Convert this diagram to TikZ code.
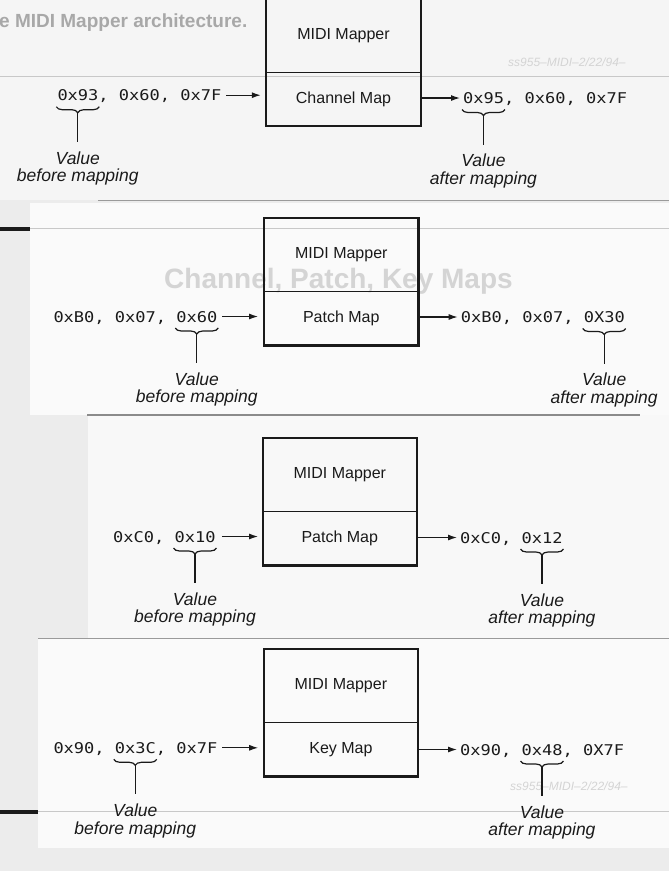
\documentclass[tikz,border=0pt]{standalone}
\usepackage{fontspec}
\setmainfont{Liberation Sans}
\newfontfamily\hexfont[FakeStretch=1.15]{DejaVu Sans Mono}
\usetikzlibrary{arrows.meta,decorations.pathreplacing,calc}
\definecolor{pagegray}{HTML}{ECECEC}
\definecolor{topwhite}{HTML}{F5F5F5}
\definecolor{panelwhite}{HTML}{FAFAFA}
\definecolor{edgegray}{HTML}{9A9A9A}
\definecolor{ghostline}{HTML}{C8C8C8}
\definecolor{ghosttext}{HTML}{A8A8A8}
\definecolor{ghostlight}{HTML}{D4D4D4}
\definecolor{ink}{HTML}{1A1A1A}
\newcommand\valbrace[5]{%
  \coordinate (#4a) at ($(#1.base west)+({#2*10.25-1},6)$);
  \coordinate (#4b) at ($(#1.base west)+({#3*10.25+1},6)$);
  \draw[brc] (#4a) -- (#4b);
  \coordinate (#4c) at ($(#4a)!0.5!(#4b)+(0,6)$);
  \node[lab] (#4v) at ($(#4c)+(0,38.5)$) {Value\\#5};
  \draw[stem] (#4c) -- (#4v.north);
}
\begin{document}
\begin{tikzpicture}[x=1pt,y=-1pt,
  hex/.style={font=\hexfont\fontsize{14.8}{18}\selectfont, inner sep=0pt, text height=11pt, text depth=0pt, anchor=base west, text=ink},
  sec/.style={font=\fontsize{16}{19}\selectfont, inner sep=0pt, minimum width=154pt, text=ink},
  upper/.style={sec, minimum height=73pt},
  lower/.style={sec, minimum height=54pt},
  boxline/.style={draw=ink, line width=2.2pt},
  divline/.style={draw=ink, line width=1.3pt},
  arr/.style={draw=ink, line width=1.2pt, -{Latex[length=9pt,width=6pt]}},
  brc/.style={draw=ink, line width=1.2pt, decorate, decoration={brace, mirror, amplitude=6pt}},
  stem/.style={draw=ink, line width=1.2pt, shorten >=9.5pt},
  lab/.style={font=\itshape\fontsize{17.5}{17.5}\selectfont, align=center, inner sep=0pt, anchor=north, text=ink},
  ghost/.style={font=\bfseries, inner sep=0pt, anchor=base west}
]
\useasboundingbox (0,0) rectangle (669,871);
% paper background
\fill[pagegray] (0,0) rectangle (669,871);
\fill[topwhite] (0,0) rectangle (669,200);
\fill[panelwhite] (30,203) rectangle (669,415);
\fill[panelwhite!99!black] (88,415) rectangle (669,638);
\fill[panelwhite] (38,638) rectangle (669,848);
% paper edges and ghost lines
\draw[edgegray, line width=1pt] (98,200.5) -- (669,200.5);
\draw[edgegray!90!black, line width=1.2pt] (87,415) -- (640,415);
\draw[edgegray, line width=1pt] (38,638.5) -- (669,638.5);
\draw[ghostline, line width=1pt] (0,76) -- (669,76);
\draw[ghostline, line width=1pt] (30,228.5) -- (669,228.5);
\draw[ghostline, line width=1pt] (38,811.5) -- (669,811.5);
\draw[ink, line width=4pt] (0,228.5) -- (30,228.5);
\draw[ink, line width=4pt] (0,811.5) -- (38,811.5);
% ghost texts
\node[ghost, text=ghosttext, font=\bfseries\fontsize{19}{19}\selectfont] (g1) at (-1,27) {e MIDI Mapper architecture.};
\node[ghost, text=ghostlight, font=\bfseries\fontsize{28}{28}\selectfont] (g2) at (164,288) {Channel, Patch, Key Maps};
\node[ghost, text=ghostlight, font=\itshape\fontsize{12}{12}\selectfont] (g3) at (508,66) {ss955--MIDI--2/22/94--};
\node[ghost, text=ghostlight, font=\itshape\fontsize{12}{12}\selectfont] (g4) at (510,790) {ss955--MIDI--2/22/94--};

% ---------- panel 1 ----------
\node[upper] (u1) at (343.5,35.5) {MIDI Mapper};
\node[lower] (l1) at (343.5,99) {Channel Map};
\draw[boxline] (u1.north west) rectangle (l1.south east);
\draw[divline] (u1.south west) -- (u1.south east);
\node[hex] (in1) at (57.3,100.7) {0x93, 0x60, 0x7F};
\node[hex] (out1) at (463,103.5) {0x95, 0x60, 0x7F};
\draw[arr, shorten <=4.5pt, shorten >=5.5pt] (in1.east) -- (in1.east -| l1.west);
\draw[arr, shorten >=3pt] (out1.west -| l1.east) -- (out1.west);
\valbrace{in1}{0}{4}{bi1}{before mapping}
\valbrace{out1}{0}{4}{bo1}{after mapping}

% ---------- panel 2 ----------
\node[upper] (u2) at (341.3,254.8) {MIDI Mapper};
\node[lower] (l2) at (341.3,318.3) {Patch Map};
\draw[boxline] (u2.north west) rectangle (l2.south east);
\draw[divline] (u2.south west) -- (u2.south east);
\node[hex] (in2) at (53.3,322) {0xB0, 0x07, 0x60};
\node[hex] (out2) at (460.7,322.5) {0xB0, 0x07, 0X30};
\draw[arr, shorten <=4.5pt, shorten >=6pt] (in2.east) -- (in2.east -| l2.west);
\draw[arr, shorten >=3pt] (out2.west -| l2.east) -- (out2.west);
\valbrace{in2}{12}{16}{bi2}{before mapping}
\valbrace{out2}{12}{16}{bo2}{after mapping}

% ---------- panel 3 ----------
\node[upper] (u3) at (339.8,474.8) {MIDI Mapper};
\node[lower] (l3) at (339.8,538.3) {Patch Map};
\draw[boxline] (u3.north west) rectangle (l3.south east);
\draw[divline] (u3.south west) -- (u3.south east);
\node[hex] (in3) at (113,542) {0xC0, 0x10};
\node[hex] (out3) at (460,543) {0xC0, 0x12};
\draw[arr, shorten <=6pt, shorten >=4.5pt] (in3.east) -- (in3.east -| l3.west);
\draw[arr, shorten >=3pt] (out3.west -| l3.east) -- (out3.west);
\valbrace{in3}{6}{10}{bi3}{before mapping}
\valbrace{out3}{6}{10}{bo3}{after mapping}

% ---------- panel 4 ----------
\node[upper] (u4) at (340.9,685.8) {MIDI Mapper};
\node[lower] (l4) at (340.9,749.3) {Key Map};
\draw[boxline] (u4.north west) rectangle (l4.south east);
\draw[divline] (u4.south west) -- (u4.south east);
\node[hex] (in4) at (53.3,753.3) {0x90, 0x3C, 0x7F};
\node[hex] (out4) at (460,755) {0x90, 0x48, 0X7F};
\draw[arr, shorten <=4.5pt, shorten >=5.5pt] (in4.east) -- (in4.east -| l4.west);
\draw[arr, shorten >=3pt] (out4.west -| l4.east) -- (out4.west);
\valbrace{in4}{6}{10}{bi4}{before mapping}
\valbrace{out4}{6}{10}{bo4}{after mapping}
\end{tikzpicture}
\end{document}
